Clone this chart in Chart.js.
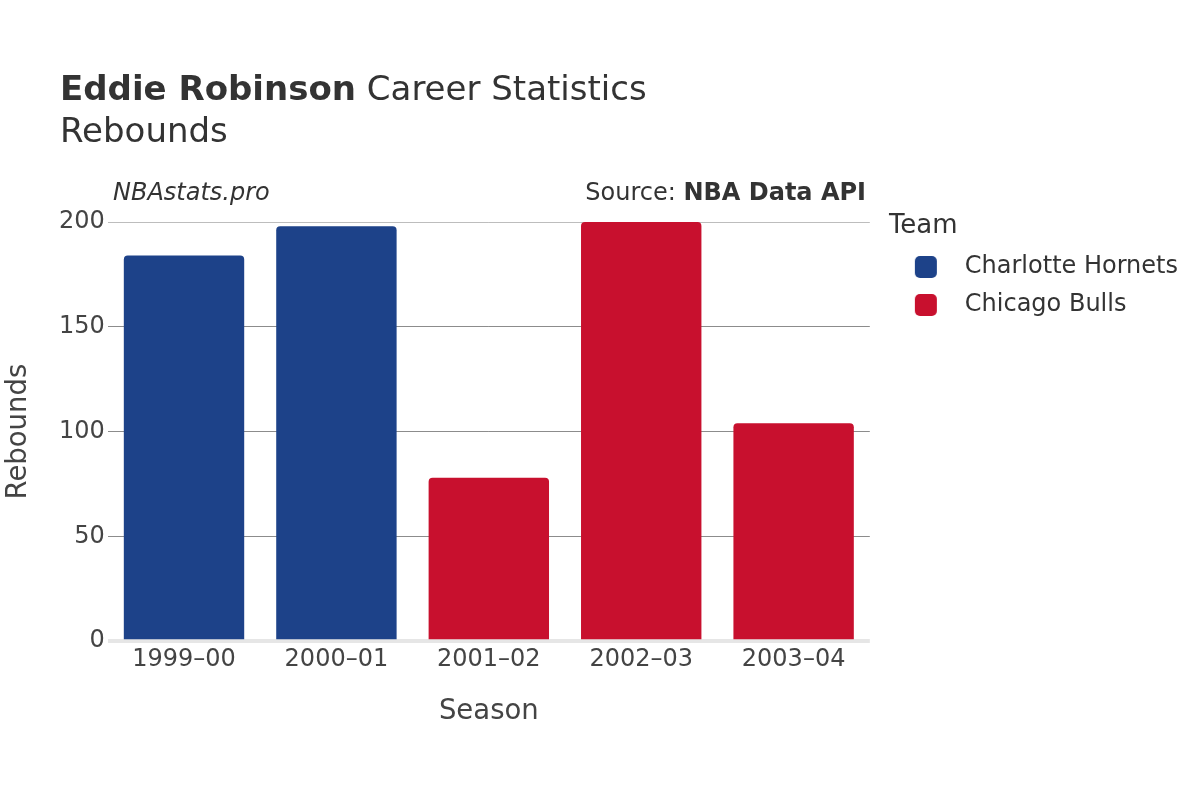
<!DOCTYPE html>
<html>
<head>
<meta charset="utf-8">
<script src="https://cdn.jsdelivr.net/npm/chart.js@4/dist/chart.umd.min.js"></script>
<style>
  html, body { margin: 0; padding: 0; background: #fff; }
  #wrap { position: relative; width: 1200px; height: 800px; font-family: "DejaVu Sans", sans-serif; color: #333; }
  #wrap canvas { position: absolute; left: 0; top: 0; }
  .txt { position: absolute; white-space: nowrap; }
  #title { left: 60px; top: 68px; font-size: 34px; line-height: 40px; }
  #subtitle { left: 60px; top: 110px; font-size: 34px; line-height: 40px; }
  #brand { left: 113px; top: 177px; font-size: 24px; line-height: 30px; font-style: italic; }
  #source { right: 334px; top: 177px; font-size: 24px; line-height: 30px; }
</style>
</head>
<body>
<div id="wrap">
  <canvas id="c" width="1200" height="800"></canvas>
  <div class="txt" id="title"><b>Eddie Robinson</b> Career Statistics</div>
  <div class="txt" id="subtitle">Rebounds</div>
  <div class="txt" id="brand">NBAstats.pro</div>
  <div class="txt" id="source">Source: <b>NBA Data API</b></div>
</div>
<script>
const seasons = ['1999–00', '2000–01', '2001–02', '2002–03', '2003–04'];
const teams = ['Charlotte Hornets', 'Chicago Bulls'];
const hornetsRebounds = [184, 198, null, null, null];
const bullsRebounds = [null, null, 78, 200, 104];
const teamColors = ['#1d4289', '#c8102e'];
const yTicks = [0, 50, 100, 150, 200];

function legendSwatch(color) {
  const cv = document.createElement('canvas');
  cv.width = 50; cv.height = 22;
  const g = cv.getContext('2d');
  g.fillStyle = color;
  g.beginPath();
  if (g.roundRect) { g.roundRect(12, 0, 22, 22, 5); } else { g.rect(12, 0, 22, 22); }
  g.fill();
  return cv;
}

const FONT = '"DejaVu Sans", sans-serif';

new Chart(document.getElementById('c'), {
  type: 'bar',
  data: {
    labels: seasons,
    datasets: [
      { label: teams[0], data: hornetsRebounds, backgroundColor: teamColors[0] },
      { label: teams[1], data: bullsRebounds, backgroundColor: teamColors[1] }
    ]
  },
  options: {
    responsive: false,
    animation: false,
    devicePixelRatio: 1,
    layout: { padding: { top: 210, bottom: 72, left: 0, right: 12 } },
    datasets: {
      bar: {
        barPercentage: 0.79,
        categoryPercentage: 1,
        borderRadius: 4,
        borderSkipped: 'start'
      }
    },
    scales: {
      x: {
        stacked: true,
        grid: { display: false, drawTicks: false },
        border: { display: false },
        ticks: { color: '#444', font: { family: FONT, size: 24 }, padding: 4 },
        title: { display: true, text: 'Season', color: '#444', font: { family: FONT, size: 27.5 }, padding: { top: 17, bottom: 0 } }
      },
      y: {
        stacked: true,
        min: 0,
        max: 200,
        afterBuildTicks: (s) => { s.ticks = yTicks.map(v => ({ value: v })); },
        grid: {
          drawTicks: false,
          color: (ctx) => ctx.tick && ctx.tick.value === 0 ? '#e6e6e6' : (ctx.tick && ctx.tick.value === 200 ? '#bdbdbd' : '#8c8c8c'),
          lineWidth: (ctx) => ctx.tick && ctx.tick.value === 0 ? 4 : 1
        },
        border: { display: false },
        ticks: { color: '#444', font: { family: FONT, size: 24 }, padding: 3 },
        title: { display: true, text: 'Rebounds', color: '#444', font: { family: FONT, size: 27.5 }, padding: { top: 2, bottom: 21 } }
      },
      topGap: {
        type: 'linear',
        position: 'top',
        display: true,
        grid: { display: false, drawTicks: false },
        border: { display: false },
        ticks: { display: false },
        afterFit: (s) => { s.height = 12; }
      },
      gap: {
        type: 'linear',
        position: 'right',
        display: true,
        grid: { display: false, drawTicks: false },
        border: { display: false },
        ticks: { display: false },
        afterFit: (s) => { s.width = 19; }
      }
    },
    plugins: {
      tooltip: { enabled: false },
      legend: {
        position: 'right',
        align: 'start',
        maxWidth: 400,
        title: {
          display: true,
          text: 'Team',
          position: 'start',
          color: '#333',
          font: { family: FONT, size: 26, lineHeight: 1 },
          padding: { top: 3, bottom: 2 }
        },
        labels: {
          usePointStyle: true,
          pointStyleWidth: 50,
          padding: 14,
          color: '#333',
          font: { family: FONT, size: 24 },
          generateLabels: (chart) => {
            const items = Chart.defaults.plugins.legend.labels.generateLabels(chart);
            items.forEach((it) => { it.pointStyle = legendSwatch(teamColors[it.datasetIndex]); });
            return items;
          }
        }
      }
    }
  }
});
</script>
</body>
</html>
